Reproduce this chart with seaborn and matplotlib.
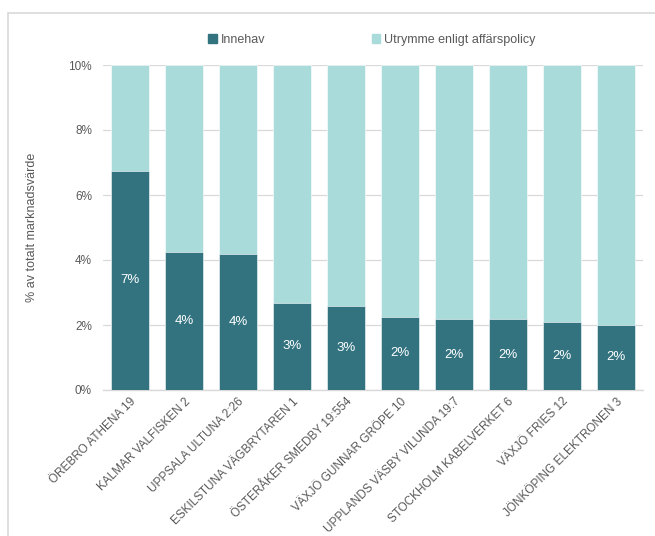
import matplotlib
matplotlib.use("Agg")
import matplotlib.pyplot as plt
import matplotlib.patches as mpatches
from matplotlib.ticker import FuncFormatter
import seaborn as sns
import pandas as pd

categories = ["ÖREBRO ATHENA 19", "KALMAR VALFISKEN 2", "UPPSALA ULTUNA 2:26",
              "ESKILSTUNA VÄGBRYTAREN 1", "ÖSTERÅKER SMEDBY 19:554",
              "VÄXJÖ GUNNAR GRÖPE 10", "UPPLANDS VÄSBY VILUNDA 19:7",
              "STOCKHOLM KABELVERKET 6", "VÄXJÖ FRIES 12", "JÖNKÖPING ELEKTRONEN 3"]
innehav = [6.74, 4.25, 4.20, 2.68, 2.58, 2.25, 2.18, 2.18, 2.09, 2.00]
utrymme = [3.26, 5.75, 5.80, 7.32, 7.42, 7.75, 7.82, 7.82, 7.91, 8.00]
bar_labels = ["7%", "4%", "4%", "3%", "3%", "2%", "2%", "2%", "2%", "2%"]
yticks = [0, 2, 4, 6, 8, 10]

dark = "#32737F"
light = "#AADBDB"
grey_text = "#595959"

df = pd.DataFrame({"fastighet": categories, "Innehav": innehav, "Utrymme": utrymme})
df["total"] = df["Innehav"] + df["Utrymme"]

sns.set_theme(style="white")
plt.rcParams["font.family"] = ["Liberation Sans", "DejaVu Sans"]

fig = plt.figure(figsize=(6.55, 5.36), dpi=100)
ax = fig.add_axes([103/655, 1 - 390/536, 540/655, 325/536])

sns.barplot(data=df, x="fastighet", y="total", color=light, width=0.7,
            saturation=1, ax=ax, edgecolor="white", linewidth=0.4, zorder=2)
sns.barplot(data=df, x="fastighet", y="Innehav", color=dark, width=0.7,
            saturation=1, ax=ax, edgecolor="white", linewidth=0.4, zorder=3)

for i, (v, lab) in enumerate(zip(innehav, bar_labels)):
    ax.text(i, v / 2, lab, ha="center", va="center", color="white", fontsize=9.5, zorder=4)

ax.set_ylim(0, 10)
ax.set_xlim(-0.5, len(categories) - 0.5)
ax.set_yticks(yticks)
ax.yaxis.set_major_formatter(FuncFormatter(lambda v, p: f"{int(v)}%"))
ax.grid(axis="y", color="#D9D9D9", linewidth=0.9, zorder=0)
ax.set_axisbelow(True)
for s in ["left", "right", "top"]:
    ax.spines[s].set_visible(False)
ax.spines["bottom"].set_color("#D9D9D9")
ax.spines["bottom"].set_linewidth(1.0)
ax.tick_params(axis="both", length=0, colors=grey_text, labelsize=8.5)
ax.tick_params(axis="y", pad=8)
ax.set_xticks(range(len(categories)))
ax.set_xticklabels(categories, rotation=45, ha="right", rotation_mode="anchor",
                   fontsize=8.5, color=grey_text)
ax.tick_params(axis="x", pad=4)
ax.set_xlabel("")
ax.set_ylabel("% av totalt marknadsvärde", color=grey_text, fontsize=9, labelpad=22)

handles = [mpatches.Patch(color=dark, label="Innehav"),
           mpatches.Patch(color=light, label="Utrymme enligt affärspolicy")]
fig.legend(handles=handles, loc="center", bbox_to_anchor=(372/655, 1 - 40/536),
           ncol=2, frameon=False, fontsize=9, handlelength=0.7, handleheight=0.7,
           handletextpad=0.3, columnspacing=8.5, labelcolor=grey_text)

# outer frame (left and top edges visible)
frame = mpatches.Rectangle((8/655, -0.05), 1.2, 1 - 13/536 + 0.05, transform=fig.transFigure,
                           fill=False, edgecolor="#D9D9D9", linewidth=1.2)
fig.patches.append(frame)

fig.savefig("out.png", dpi=100)
